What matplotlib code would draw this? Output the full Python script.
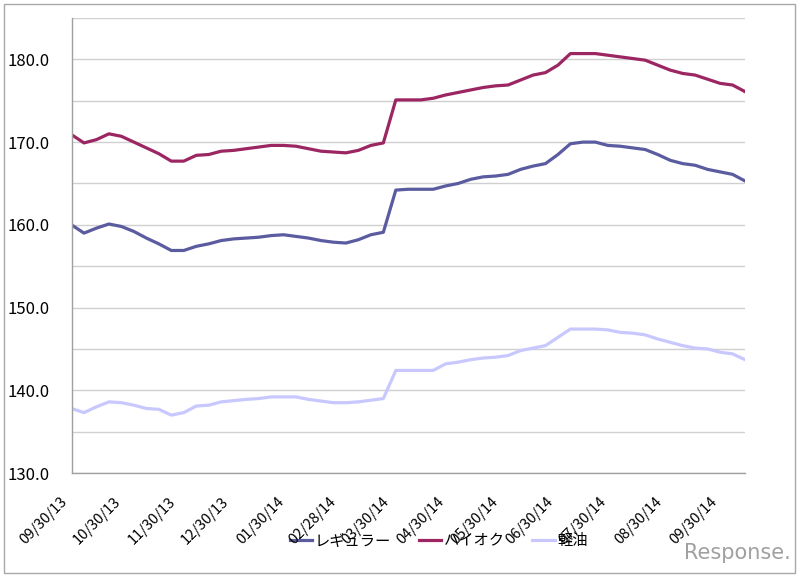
import matplotlib as mpl
import matplotlib.pyplot as plt
import matplotlib.transforms as mtransforms
from matplotlib.patches import Rectangle
import pandas as pd

mpl.rcParams["font.family"] = ["Noto Sans CJK JP", "DejaVu Sans"]

# weekly survey dates
dates = pd.date_range("2013-09-30", periods=55, freq="7D")

regular = [160.0, 159.0, 159.6, 160.1, 159.8, 159.2, 158.4, 157.7, 156.9, 156.9,
           157.4, 157.7, 158.1, 158.3, 158.4, 158.5, 158.7, 158.8, 158.6, 158.4,
           158.1, 157.9, 157.8, 158.2, 158.8, 159.1, 164.2, 164.3, 164.3, 164.3,
           164.7, 165.0, 165.5, 165.8, 165.9, 166.1, 166.7, 167.1, 167.4, 168.5,
           169.8, 170.0, 170.0, 169.6, 169.5, 169.3, 169.1, 168.5, 167.8, 167.4,
           167.2, 166.7, 166.4, 166.1, 165.3]
highoctane = [170.9, 169.9, 170.3, 171.0, 170.7, 170.0, 169.3, 168.6, 167.7, 167.7,
              168.4, 168.5, 168.9, 169.0, 169.2, 169.4, 169.6, 169.6, 169.5, 169.2,
              168.9, 168.8, 168.7, 169.0, 169.6, 169.9, 175.1, 175.1, 175.1, 175.3,
              175.7, 176.0, 176.3, 176.6, 176.8, 176.9, 177.5, 178.1, 178.4, 179.3,
              180.7, 180.7, 180.7, 180.5, 180.3, 180.1, 179.9, 179.3, 178.7, 178.3,
              178.1, 177.6, 177.1, 176.9, 176.1]
diesel = [137.8, 137.3, 138.0, 138.6, 138.5, 138.2, 137.8, 137.7, 137.0, 137.3,
          138.1, 138.2, 138.6, 138.75, 138.9, 139.0, 139.2, 139.2, 139.2, 138.9,
          138.7, 138.5, 138.5, 138.6, 138.8, 139.0, 142.4, 142.4, 142.4, 142.4,
          143.2, 143.4, 143.7, 143.9, 144.0, 144.2, 144.8, 145.1, 145.4, 146.4,
          147.4, 147.4, 147.4, 147.3, 147.0, 146.9, 146.7, 146.2, 145.8, 145.4,
          145.1, 145.0, 144.6, 144.4, 143.7]

series_names = ["レギュラー", "ハイオク", "軽油"]
series_colors = ["#5B5BA0", "#9B2662", "#C8C8FF"]

tick_labels = ["09/30/13", "10/30/13", "11/30/13", "12/30/13", "01/30/14", "02/28/14",
               "03/30/14", "04/30/14", "05/30/14", "06/30/14", "07/30/14", "08/30/14",
               "09/30/14"]

fig = plt.figure(figsize=(8, 5.77), dpi=100)
ax = fig.add_axes([0.0894, 0.1802, 0.8419, 0.7886])
ax.set_zorder(3)

for vals, name, col in zip([regular, highoctane, diesel], series_names, series_colors):
    ax.plot(dates, vals, color=col, lw=2.3, label=name, solid_joinstyle="round")

ax.set_ylim(130, 185)
ax.set_yticks(range(130, 190, 10))
ax.set_yticklabels([f"{v:.1f}" for v in range(130, 190, 10)], fontsize=12)
ax.set_yticks(range(135, 190, 10), minor=True)
ax.grid(axis="y", which="both", color="#D0D0D0", lw=1)
ax.set_axisbelow(True)

ticks = pd.to_datetime(tick_labels, format="%m/%d/%y")
ax.set_xticks(ticks)
ax.set_xticklabels(tick_labels, fontsize=10.5, rotation=45, ha="right",
                   va="center", rotation_mode="anchor")
ax.set_xlim(dates[0], dates[-1])

ax.tick_params(axis="x", length=0, pad=19)
ax.tick_params(axis="y", which="both", length=0, pad=15.5)
shift = mtransforms.ScaledTranslation(-5 / 72, 0, fig.dpi_scale_trans)
for lab in ax.get_xticklabels():
    lab.set_transform(lab.get_transform() + shift)

for s in ["top", "right"]:
    ax.spines[s].set_visible(False)
for s in ["left", "bottom"]:
    ax.spines[s].set_color("#A0A0A0")
    ax.spines[s].set_linewidth(1)

leg = fig.legend(loc="center", bbox_to_anchor=(439 / 800, 1 - 541 / 577), ncol=3,
                 frameon=False, fontsize=11, handlelength=1.45, handletextpad=0.2,
                 columnspacing=1.8)
leg.set_zorder(1)
for line in leg.get_lines():
    line.set_linewidth(2.3)

fig.text(0.988, 1 - 553 / 577, "Response.", ha="right", va="center",
         color="#A0A0A0", fontsize=15, family="DejaVu Sans")

fig.patches.append(Rectangle((4 / 800, 4 / 577), 791 / 800, 569 / 577,
                             transform=fig.transFigure, fill=False,
                             edgecolor="#A8A8A8", lw=1))

fig.savefig("out.png", dpi=100)
